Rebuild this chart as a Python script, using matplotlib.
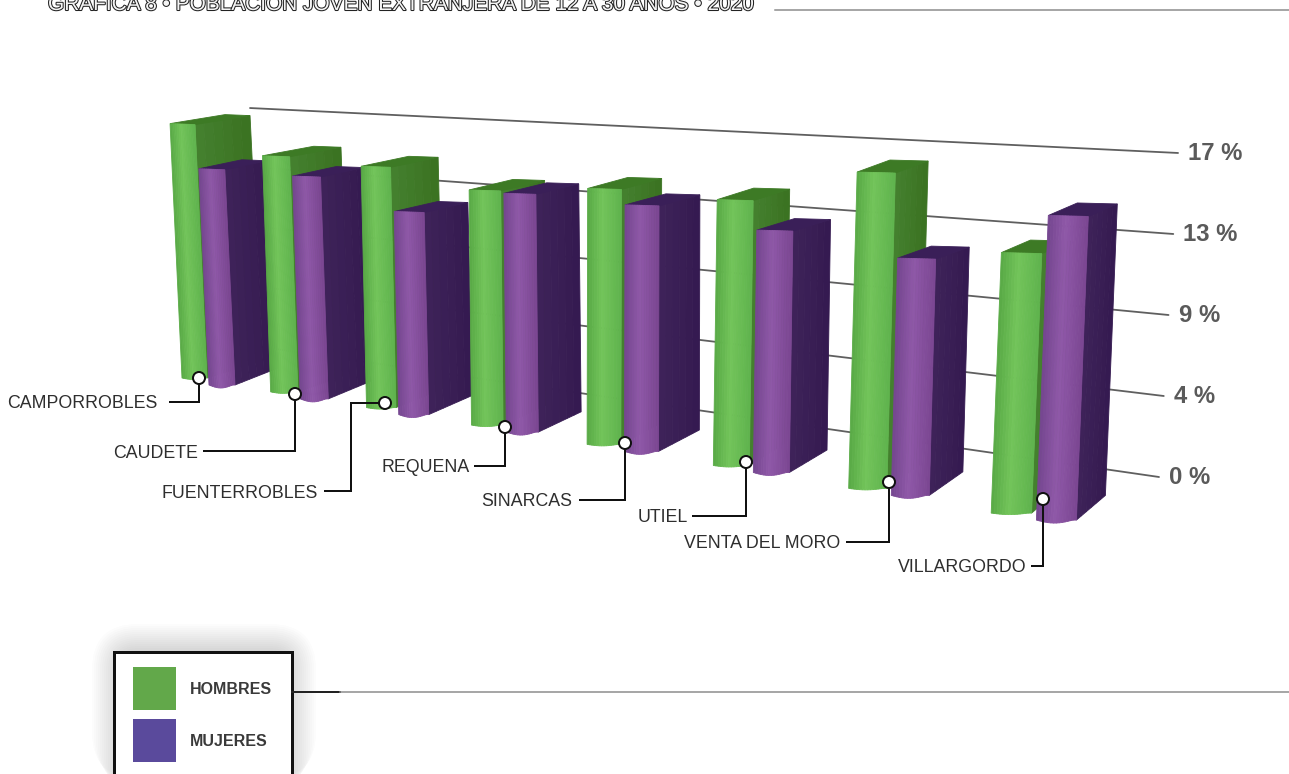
import numpy as np
import matplotlib
matplotlib.use("Agg")
import matplotlib.pyplot as plt
from matplotlib.patches import Polygon, Rectangle, Circle, FancyBboxPatch
from matplotlib.colors import to_rgb
import matplotlib.patheffects as pe

categories = ["CAMPORROBLES", "CAUDETE", "FUENTERROBLES", "REQUENA",
              "SINARCAS", "UTIEL", "VENTA DEL MORO", "VILLARGORDO"]
hombres = [16.0, 14.2, 13.9, 13.0, 13.6, 13.6, 15.6, 12.4]
mujeres = [13.6, 13.4, 11.7, 13.2, 13.1, 12.4, 11.7, 14.5]
ticks = [0, 4.25, 8.5, 12.75, 17]
tick_labels = ["0 %", "4 %", "9 %", "13 %", "17 %"]
title = "GRÁFICA 8 • POBLACIÓN JOVEN EXTRANJERA DE 12 A 30 AÑOS • 2020"

FONT = ["Liberation Sans", "DejaVu Sans"]
fig = plt.figure(figsize=(12.89, 7.74), dpi=100)
ax = fig.add_axes([0, 0, 1, 1])
ax.set_xlim(0, 1289)
ax.set_ylim(774, 0)
ax.axis("off")
PX = 0.72


# ---- perspective model of the scene -----
def base_green(c):
    return (182 + 85.5 * c + 4.3 * c ** 2 - 6 * np.sin(np.pi * c / 7) ** 2,
            378 + 13 * c + 0.9 * c ** 2)


def base_purple(c):
    x, y = base_green(c)
    return x + 27 + 2.6 * c, y + 7


def scale(c):
    return 15.9 + 0.73 * c


def lean(c):
    return -0.047 + 0.0123 * c


def mix(a, b, t):
    a, b = np.array(to_rgb(a)), np.array(to_rgb(b))
    return tuple(a + (b - a) * t)


def quad(pts, col, z):
    ax.add_patch(Polygon(pts, closed=True, fc=col, ec=col, lw=0.6, zorder=z))


def draw_bar(c, v, base, width, dx, front_stops, side_col, side_col2, top_col, z, foot):
    x0, y0 = base(c)
    h = v * scale(c)
    xt = x0 + lean(c) * h
    yt = y0 - h
    top_dy = -8 - 0.5 * c
    bot_dy = -17 - 1.1 * c

    # side face, in strips
    n = 6
    for i in range(n):
        a, b = i / n, (i + 1) / n
        pts = [(xt + width + dx * a, yt + top_dy * a),
               (xt + width + dx * b, yt + top_dy * b),
               (x0 + width + dx * b, y0 + bot_dy * b),
               (x0 + width + dx * a, y0 + bot_dy * a)]
        quad(pts, mix(side_col, side_col2, a), z)
    # top face
    quad([(xt, yt), (xt + width, yt + 1), (xt + width + dx, yt + top_dy),
          (xt + dx, yt + top_dy - 1)], top_col, z + 0.1)
    # front face, with horizontal shading and a rounded foot
    n = 14
    for i in range(n):
        a, b = i / n, (i + 1) / n
        mid = (a + b) / 2
        col = np.interp(mid, [s[0] for s in front_stops], [0, 1, 2])
        k = int(min(col, 1))
        colr = mix(front_stops[k][1], front_stops[k + 1][1], col - k)
        foot_a = foot * np.sin(np.pi * min(a * 1.1, 1))
        foot_b = foot * np.sin(np.pi * min(b * 1.1, 1))
        pts = [(xt + width * a, yt + a), (xt + width * b, yt + b),
               (x0 + width * b, y0 + foot_b), (x0 + width * a, y0 + foot_a)]
        quad(pts, colr, z + 0.2)


# ---- back wall grid and tick labels -----
for tv, tl in zip(ticks, tick_labels):
    xe = 1159 + 1.12 * tv
    ye = 477 - 19.06 * tv
    slope = 0.145 - 0.00568 * tv
    xs = 250
    ax.plot([xs, xe], [ye - (xe - xs) * slope, ye], color="#5f5f5f", lw=1.8 * PX,
            solid_capstyle="round", zorder=1)
    ax.text(xe + 10, ye + 1, tl, family=FONT, fontsize=17.2, color="#5a5a5a",
            ha="left", va="center", fontweight="bold", zorder=1)

# ---- bars -----
G_STOPS = [(0.0, "#58a945"), (0.45, "#72c45a"), (1.0, "#5fb34d")]
P_STOPS = [(0.0, "#74468f"), (0.45, "#8f58a8"), (1.0, "#7b4692")]
for c in range(len(categories)):
    z = 2 + c
    draw_bar(c, hombres[c], base_green, 25 + 2.2 * c, 55 - 3.7 * c, G_STOPS,
             "#44802e", "#39701f", "#3d7a25", z, 1.5)
    draw_bar(c, mujeres[c], base_purple, 26 + 2 * c,
             43 - 2 * c + 6 * np.sin(np.pi * c / 7), P_STOPS,
             "#3e2259", "#33194f", "#3a1f58", z + 0.4, 3)

# ---- category call-outs (layout of leader lines) -----
leaders = [
    [(199, 378), (199, 402), (170, 402)],
    [(295, 394), (295, 451), (204, 451)],
    [(385, 403), (351, 403), (351, 491), (325, 491)],
    [(505, 427), (505, 466), (475, 466)],
    [(625, 443), (625, 500), (580, 500)],
    [(746, 462), (746, 516), (693, 516)],
    [(889, 482), (889, 542), (847, 542)],
    [(1043, 499), (1043, 566), (1032, 566)],
]
label_right = [157, 198, 318, 470, 572, 688, 840, 1027]
for name, pts, xr in zip(categories, leaders, label_right):
    xs, ys = zip(*pts)
    ax.plot(xs, ys, color="#111111", lw=2 * PX, zorder=20, solid_joinstyle="miter")
    ax.add_patch(Circle(pts[0], 6, fc="white", ec="#111111", lw=2 * PX, zorder=21))
    ax.text(xr, pts[-1][1] + 2, name, family=FONT, fontsize=12.8, color="#2e2e2e",
            ha="right", va="center", zorder=21)

# ---- header -----
ax.text(48, 10, title, family=FONT, fontsize=15, color="#f4f4f4", ha="left",
        va="baseline", zorder=5,
        path_effects=[pe.withStroke(linewidth=1.5, foreground="#222222")])
ax.plot([775, 1289], [10, 10], color="#8a8a8a", lw=1.5 * PX, zorder=5)

# ---- legend -----
for grow in np.arange(36, 0, -2):
    ax.add_patch(FancyBboxPatch((140 - grow, 672 - grow), 136 + 2 * grow - 8, 130,
                                boxstyle="round,pad=12,rounding_size=%d" % (grow + 10),
                                fc="#444444", ec="none", alpha=0.017, zorder=6))
ax.add_patch(Rectangle((114, 652), 178, 140, fc="white", ec="#111111", lw=3 * PX, zorder=7))
ax.plot([292, 340], [692, 692], color="#222222", lw=2 * PX, zorder=7)
ax.plot([340, 1289], [692, 692], color="#8a8a8a", lw=1.5 * PX, zorder=7)
ax.add_patch(Rectangle((133, 667), 43, 43, fc="#62a84a", ec="none", zorder=8))
ax.add_patch(Rectangle((133, 719), 43, 43, fc="#5a4a9c", ec="none", zorder=8))
ax.text(190, 690, "HOMBRES", family=FONT, fontsize=11.5, fontweight="bold", color="#3a3a3a",
        va="center", ha="left", zorder=8)
ax.text(190, 742, "MUJERES", family=FONT, fontsize=11.5, fontweight="bold", color="#3a3a3a",
        va="center", ha="left", zorder=8)

fig.savefig("out.png", dpi=100, facecolor="white")
